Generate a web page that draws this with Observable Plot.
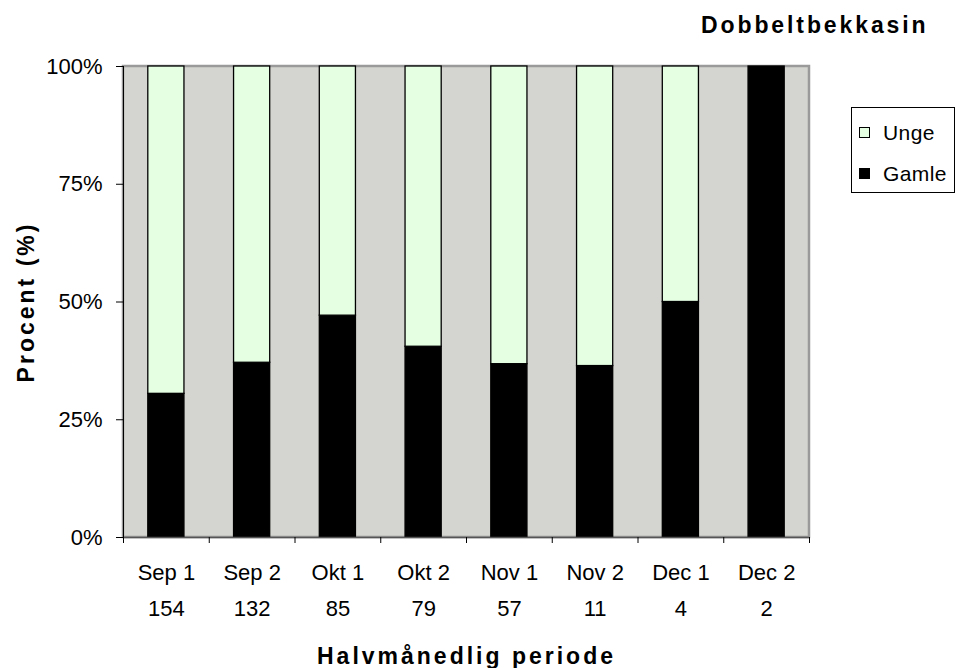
<!DOCTYPE html>
<html>
<head>
<meta charset="utf-8">
<script src="https://cdn.jsdelivr.net/npm/d3@7"></script>
<script src="https://cdn.jsdelivr.net/npm/@observablehq/plot@0.6"></script>
<style>
  body { margin: 0; background: #fff; }
  #wrap { position: relative; width: 955px; height: 668px; font-family: "Liberation Sans", Arial, sans-serif; overflow: hidden; }
  #title { position: absolute; left: 701px; top: 14px; font-weight: bold; font-size: 23px; line-height: 23px; letter-spacing: 2.9px; white-space: nowrap; }
  #legend { position: absolute; left: 851px; top: 107px; width: 104px; height: 86px; border: 1px solid #000; box-sizing: border-box; background: #fff; font-size: 21px; }
  .li { position: absolute; left: 7px; display: flex; align-items: center; height: 21px; line-height: 21px; letter-spacing: 0.4px; }
  .sw { width: 11px; height: 11px; border: 1px solid #000; margin-right: 13px; box-sizing: border-box; }
</style>
</head>
<body>
<div id="wrap"></div>
<script>
const categories = ["Sep 1", "Sep 2", "Okt 1", "Okt 2", "Nov 1", "Nov 2", "Dec 1", "Dec 2"];
const counts = [154, 132, 85, 79, 57, 11, 4, 2];
const gamle = [0.305, 0.371, 0.471, 0.405, 0.368, 0.364, 0.5, 1.0];
const unge  = [0.695, 0.629, 0.529, 0.595, 0.632, 0.636, 0.5, 0.0];
const yTicks = [0, 0.25, 0.5, 0.75, 1];
const seriesNames = ["Gamle", "Unge"];
const seriesColors = ["#000000", "#E5FFE3"];

const rows = [];
categories.forEach((c, i) => {
  rows.push({i, cat: c, series: "Gamle", y1: 0, y2: gamle[i]});
  rows.push({i, cat: c, series: "Unge", y1: gamle[i], y2: gamle[i] + unge[i]});
});
const bars = rows.filter(r => r.y2 > r.y1);
const n = categories.length;

const chart = Plot.plot({
  width: 955,
  height: 668,
  marginLeft: 123,
  marginRight: 146,
  marginTop: 66,
  marginBottom: 131,
  style: {fontFamily: "Liberation Sans, Arial, sans-serif", fontSize: "22px", color: "#000", background: "#fff", overflow: "visible"},
  x: {type: "linear", domain: [0, n], axis: null},
  y: {domain: [0, 1], axis: null},
  color: {domain: seriesNames, range: seriesColors},
  marks: [
    Plot.rect([{}], {x1: 0, x2: n, y1: 0, y2: 1, fill: "#D4D5D0", stroke: "#9a9a9a", strokeWidth: 2.5}),
    Plot.rect(bars, {x1: "i", x2: d => d.i + 1, y1: "y1", y2: "y2", fill: "series", stroke: "#000", strokeWidth: 1.3, insetLeft: 24.8, insetRight: 24.8}),
    Plot.ruleY([0], {stroke: "#555", strokeWidth: 1.5}),
    Plot.ruleX([0], {stroke: "#000", strokeWidth: 1}),
    Plot.axisY({ticks: yTicks, tickFormat: d3.format(".0%"), tickSize: 7, tickPadding: 14, fontSize: 22,
      label: "Procent (%)", labelAnchor: "center", labelArrow: "none", labelOffset: 106}),
    Plot.axisX({ticks: d3.range(0, n + 1), tickFormat: () => "", tickSize: 6, label: null}),
    Plot.axisX({ticks: d3.range(n).map(i => i + 0.5), tickSize: 0, tickPadding: 17, lineHeight: 36 / 22,
      tickFormat: v => categories[Math.floor(v)] + "\n" + counts[Math.floor(v)], fontSize: 22,
      label: "Halvmånedlig periode", labelAnchor: "center", labelArrow: "none", labelOffset: 126})
  ]
});

const wrap = document.getElementById("wrap");
wrap.appendChild(chart);

// bold axis titles
chart.querySelectorAll("g[aria-label='y-axis label'] text, g[aria-label='x-axis label'] text").forEach(t => {
  t.style.fontWeight = "bold";
  t.style.fontSize = "23px";
  t.style.letterSpacing = "3px";
});

const title = document.createElement("div");
title.id = "title";
title.textContent = "Dobbeltbekkasin";
wrap.appendChild(title);

const legend = document.createElement("div");
legend.id = "legend";
[["Unge", seriesColors[1], 14], ["Gamle", seriesColors[0], 55]].forEach(([name, col, top]) => {
  const li = document.createElement("div");
  li.className = "li";
  li.style.top = top + "px";
  const sw = document.createElement("div");
  sw.className = "sw";
  sw.style.background = col;
  const tx = document.createElement("span");
  tx.textContent = name;
  li.appendChild(sw); li.appendChild(tx);
  legend.appendChild(li);
});
wrap.appendChild(legend);
</script>
</body>
</html>
